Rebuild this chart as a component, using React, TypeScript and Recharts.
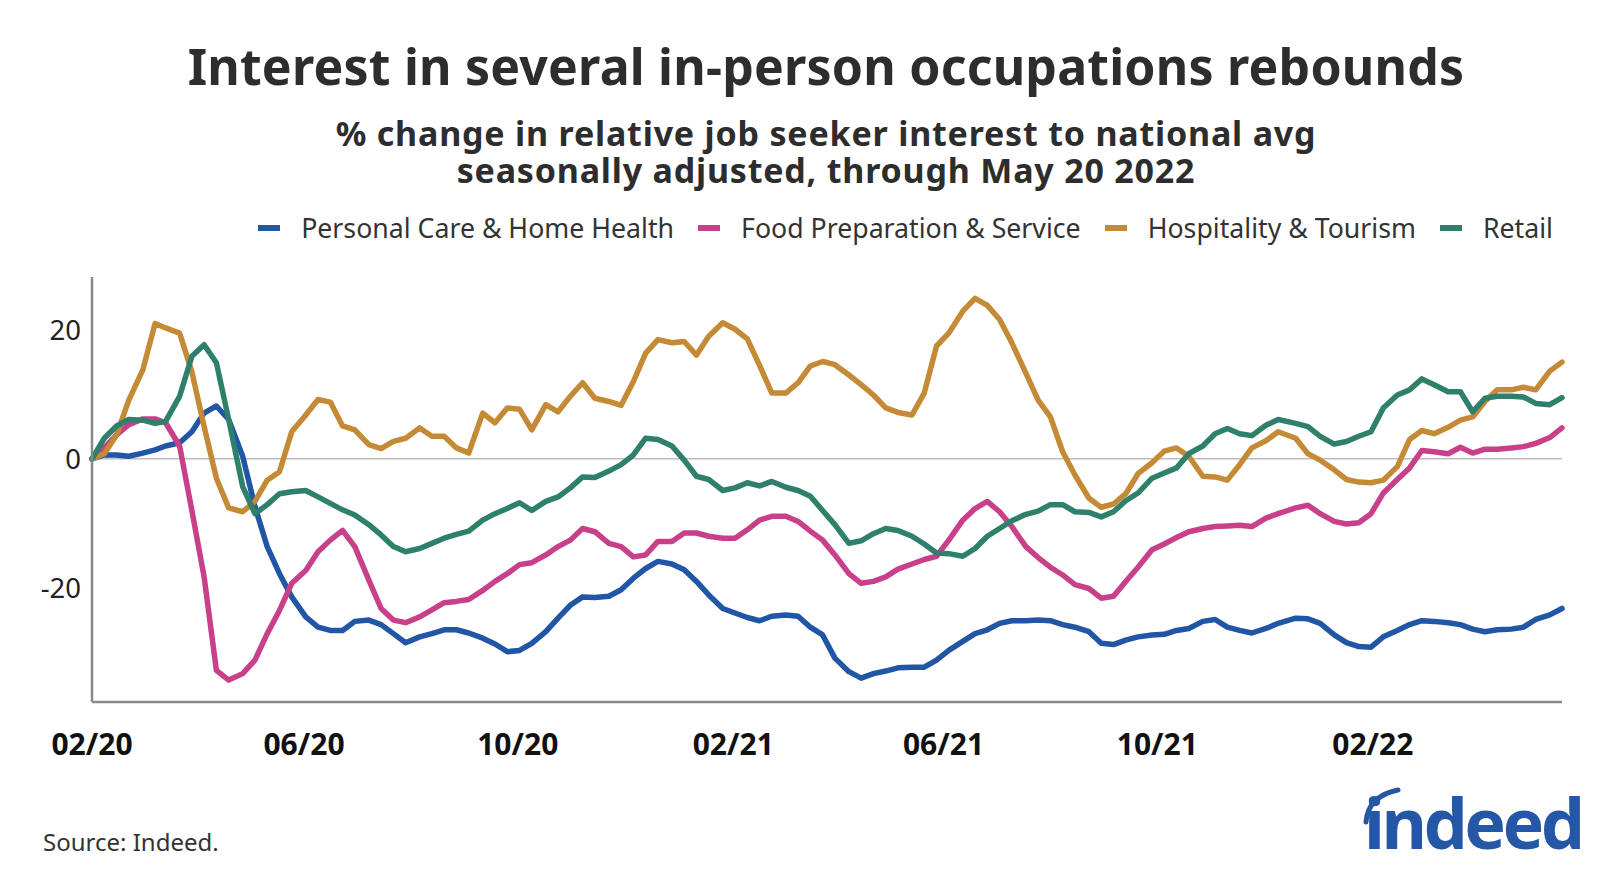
import React from "react";
import { LineChart, Line, XAxis, YAxis, ReferenceLine } from "recharts";

// days since 2020-02-01
const days = [
  0, 7, 14, 21, 29, 36, 42, 50, 57, 64, 71, 78, 86, 93, 100, 107, 114, 122, 129,
  136, 143, 150, 158, 165, 172, 179, 187, 194, 201, 208, 215, 223, 230, 237, 244, 251, 259, 266,
  273, 280, 287, 295, 302, 309, 316, 323, 331, 338, 345, 352, 360, 367, 374, 381, 388, 396, 403,
  410, 417, 424, 432, 439, 446, 453, 460, 468, 475, 482, 489, 497, 504, 511, 518, 525, 533, 540,
  547, 554, 561, 569, 576, 583, 590, 597, 605, 612, 619, 626, 634, 641, 648, 655, 662, 670, 677,
  687, 694, 701, 709, 716, 723, 730, 737, 745, 752, 759, 766, 774, 781, 788, 795, 802, 810, 817, 824,
  832, 839,
];

const personalCare = [
  0, 0.6, 0.6, 0.4, 0.9, 1.4, 2.0, 2.5, 4.2, 7.1, 8.2, 6.1, 0.4, -7.4, -13.6, -17.8, -21.4, -24.5, -26.1,
  -26.6, -26.6, -25.2, -25.0, -25.7, -27.1, -28.5, -27.6, -27.1, -26.5, -26.5, -27.0, -27.8, -28.7, -29.9, -29.7, -28.6, -26.8, -24.7,
  -22.7, -21.4, -21.5, -21.3, -20.3, -18.5, -17.0, -15.9, -16.3, -17.2, -19.0, -21.1, -23.2, -23.9, -24.6, -25.1, -24.4, -24.2, -24.4,
  -26.1, -27.3, -30.9, -33.0, -34.0, -33.3, -32.9, -32.4, -32.3, -32.3, -31.2, -29.7, -28.3, -27.1, -26.5, -25.5, -25.1, -25.1, -25.0,
  -25.1, -25.7, -26.1, -26.8, -28.6, -28.8, -28.1, -27.6, -27.3, -27.2, -26.6, -26.3, -25.2, -24.9, -26.1, -26.6, -27.0, -26.3, -25.5,
  -24.7, -24.8, -25.5, -27.3, -28.5, -29.1, -29.2, -27.6, -26.6, -25.7, -25.1, -25.2, -25.4, -25.7, -26.4, -26.8, -26.5, -26.4, -26.1, -24.9,
  -24.2, -23.2,
];

const foodPrep = [
  0, 1.7, 3.7, 5.3, 6.2, 6.2, 5.6, 2.0, -8.0, -18.3, -32.8, -34.3, -33.3, -31.2, -27.1, -23.5, -19.3, -17.3, -14.4,
  -12.6, -11.1, -13.6, -18.8, -23.2, -25.0, -25.4, -24.5, -23.4, -22.3, -22.1, -21.8, -20.4, -19.0, -17.8, -16.4, -16.1, -14.9, -13.6,
  -12.6, -10.8, -11.3, -13.1, -13.6, -15.2, -14.9, -12.8, -12.8, -11.5, -11.5, -12.0, -12.3, -12.3, -11.0, -9.5, -8.9, -8.9, -9.7,
  -11.2, -12.6, -14.9, -17.8, -19.3, -19.0, -18.3, -17.1, -16.3, -15.6, -15.1, -12.6, -9.5, -7.7, -6.6, -8.2, -10.5, -13.6, -15.3,
  -16.8, -18.0, -19.5, -20.1, -21.6, -21.3, -19.0, -16.8, -14.1, -13.2, -12.2, -11.3, -10.8, -10.5, -10.4, -10.3, -10.5, -9.2, -8.5,
  -7.6, -7.2, -8.5, -9.7, -10.1, -9.9, -8.5, -5.3, -3.2, -1.4, 1.3, 1.1, 0.8, 1.8, 0.9, 1.5, 1.5, 1.7, 1.9, 2.4,
  3.3, 4.8,
];

const hospitality = [
  0, 0.8, 3.7, 9.1, 13.8, 21.0, 20.3, 19.5, 13.5, 5.0, -3.0, -7.6, -8.2, -6.6, -3.3, -2.0, 4.2, 6.8, 9.2,
  8.8, 5.1, 4.5, 2.2, 1.6, 2.7, 3.2, 4.8, 3.5, 3.5, 1.7, 0.9, 7.1, 5.6, 7.9, 7.7, 4.5, 8.4, 7.3,
  9.7, 11.8, 9.4, 8.9, 8.3, 12.0, 16.4, 18.5, 18.0, 18.2, 16.1, 19.0, 21.1, 20.1, 18.6, 14.5, 10.2, 10.2, 11.8,
  14.4, 15.1, 14.6, 13.0, 11.5, 9.9, 7.9, 7.2, 6.8, 10.2, 17.5, 19.5, 22.9, 24.9, 23.8, 21.6, 18.0, 13.3, 9.1,
  6.5, 1.1, -2.5, -6.1, -7.5, -7.0, -5.4, -2.3, -0.6, 1.2, 1.7, 0.4, -2.7, -2.8, -3.3, -0.9, 1.7, 2.8, 4.2,
  3.2, 0.8, -0.2, -1.7, -3.2, -3.6, -3.7, -3.3, -1.2, 3.0, 4.4, 3.9, 4.9, 6.0, 6.5, 8.9, 10.7, 10.7, 11.1, 10.7,
  13.6, 15.0,
];

const retail = [
  0, 3.2, 5.1, 6.1, 6.0, 5.5, 5.8, 9.7, 15.9, 17.7, 14.9, 6.1, -4.3, -8.5, -7.1, -5.4, -5.1, -4.9, -5.9,
  -6.9, -7.9, -8.7, -10.2, -11.8, -13.6, -14.4, -13.9, -13.1, -12.3, -11.7, -11.2, -9.5, -8.5, -7.7, -6.8, -8.0, -6.6, -5.9,
  -4.5, -2.8, -2.9, -1.9, -0.9, 0.6, 3.2, 3.0, 2.0, -0.2, -2.7, -3.2, -4.9, -4.5, -3.7, -4.2, -3.5, -4.4, -4.9,
  -5.8, -8.0, -10.2, -13.1, -12.7, -11.6, -10.8, -11.1, -12.0, -13.2, -14.6, -14.7, -15.1, -13.9, -12.0, -10.8, -9.6, -8.6, -8.1,
  -7.1, -7.1, -8.2, -8.3, -9.0, -8.2, -6.5, -5.3, -3.0, -2.2, -1.4, 0.8, 2.0, 3.9, 4.7, 3.9, 3.6, 5.2, 6.1,
  5.5, 5.0, 3.5, 2.3, 2.7, 3.5, 4.2, 7.9, 9.9, 10.7, 12.4, 11.5, 10.4, 10.4, 7.3, 9.4, 9.7, 9.7, 9.6, 8.6,
  8.4, 9.5,
];

const tickDays = [0, 121, 243, 366, 486, 608, 731];
const tickLabels = ["02/20", "06/20", "10/20", "02/21", "06/21", "10/21", "02/22"];
const yTicks = [-20, 0, 20];

const series = [
  { key: "personalCare", name: "Personal Care & Home Health", color: "#2155a6" },
  { key: "foodPrep", name: "Food Preparation & Service", color: "#c9408a" },
  { key: "hospitality", name: "Hospitality & Tourism", color: "#c48a35" },
  { key: "retail", name: "Retail", color: "#2f806a" },
];

const data = days.map((d, i) => ({
  day: d,
  personalCare: personalCare[i],
  foodPrep: foodPrep[i],
  hospitality: hospitality[i],
  retail: retail[i],
}));

const font = "'Noto Sans', 'Open Sans', sans-serif";

export default function App() {
  return (
    <div
      style={{
        position: "absolute",
        left: 0,
        top: 0,
        width: 1600,
        height: 873,
        background: "#fff",
        fontFamily: font,
        color: "#2d2d2d",
      }}
    >
      <div
        style={{
          position: "absolute",
          top: 38,
          left: 0,
          width: 1600,
          textAlign: "center",
          fontSize: 50,
          lineHeight: "56px",
          fontWeight: 700,
          letterSpacing: 0.2,
          paddingLeft: 52,
          boxSizing: "border-box",
        }}
      >
        Interest in several in-person occupations rebounds
      </div>
      <div
        style={{
          position: "absolute",
          top: 115,
          left: 0,
          width: 1600,
          textAlign: "center",
          fontSize: 34,
          lineHeight: "37px",
          fontWeight: 700,
          letterSpacing: 0.8,
          paddingLeft: 52,
          boxSizing: "border-box",
        }}
      >
        <div>% change in relative job seeker interest to national avg</div>
        <div>seasonally adjusted, through May 20 2022</div>
      </div>

      {/* legend */}
      <div
        style={{
          position: "absolute",
          top: 213,
          right: 47,
          display: "flex",
          alignItems: "center",
          fontSize: 26.7,
          lineHeight: "30px",
          color: "#333",
        }}
      >
        {series.map((s, i) => (
          <div
            key={s.key}
            style={{ display: "flex", alignItems: "center", marginLeft: i === 0 ? 0 : 24 }}
          >
            <div style={{ width: 22, height: 6, background: s.color, marginRight: 21 }} />
            <span>{s.name}</span>
          </div>
        ))}
      </div>

      <div style={{ position: "absolute", left: 0, top: 0 }}>
        <LineChart
          width={1600}
          height={873}
          data={data}
          margin={{ top: 277, right: 38, left: 0, bottom: 0 }}
        >
          <XAxis
            dataKey="day"
            type="number"
            domain={[0, 839]}
            ticks={tickDays}
            tickFormatter={(v) => tickLabels[tickDays.indexOf(v)] ?? ""}
            height={171}
            tickLine={false}
            tickSize={0}
            tickMargin={32}
            axisLine={{ stroke: "#8a8a8a", strokeWidth: 2.5 }}
            tick={{ fontSize: 30, fontWeight: 700, fill: "#111", fontFamily: font }}
            interval={0}
          />
          <YAxis
            type="number"
            domain={[-37.7, 28.2]}
            ticks={yTicks}
            width={92}
            tickLine={false}
            tickSize={0}
            tickMargin={11}
            axisLine={{ stroke: "#8a8a8a", strokeWidth: 2.5 }}
            tick={{ fontSize: 27.5, fill: "#222", fontFamily: font }}
            allowDataOverflow
          />
          <ReferenceLine y={0} stroke="#bdbdbd" strokeWidth={1.5} />
          {series.map((s) => (
            <Line
              key={s.key}
              dataKey={s.key}
              name={s.name}
              type="linear"
              stroke={s.color}
              strokeWidth={5.5}
              strokeLinejoin="round"
              strokeLinecap="round"
              dot={false}
              isAnimationActive={false}
            />
          ))}
        </LineChart>
      </div>

      <div
        style={{
          position: "absolute",
          left: 43,
          top: 827,
          fontSize: 24,
          lineHeight: "30px",
          color: "#333",
        }}
      >
        Source: Indeed.
      </div>
      <div
        style={{
          position: "absolute",
          left: 1364,
          top: 782,
          fontSize: 70,
          lineHeight: "80px",
          fontWeight: 700,
          color: "#2557a7",
          letterSpacing: -3.5,
        }}
      >
        indeed
      </div>
      <svg
        width={1600}
        height={873}
        style={{ position: "absolute", left: 0, top: 0, pointerEvents: "none" }}
      >
        <path
          d="M1366 822 Q1368 796 1398 790"
          fill="none"
          stroke="#2557a7"
          strokeWidth={5}
          strokeLinecap="round"
        />
      </svg>
    </div>
  );
}
